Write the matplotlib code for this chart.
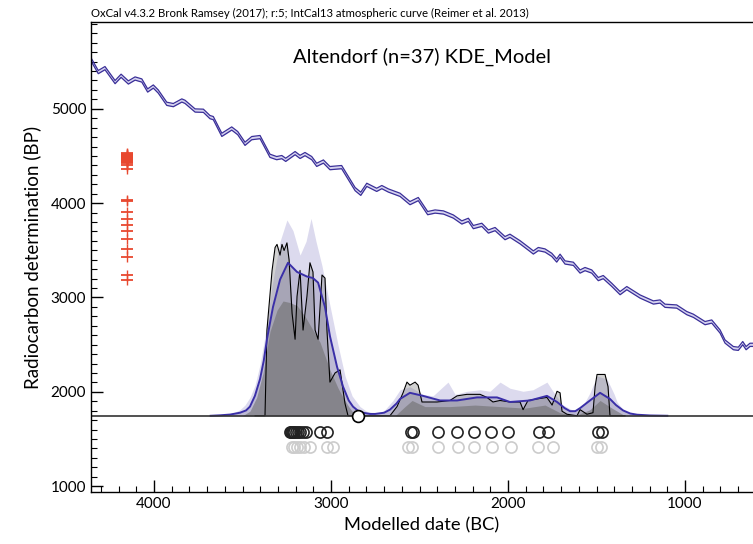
import matplotlib
matplotlib.use("Agg")
import matplotlib.pyplot as plt
import numpy as np
from matplotlib.ticker import MultipleLocator

plt.rcParams["font.family"] = ["Lato", "DejaVu Sans"]

# IntCal13 calibration curve (year BC, radiocarbon BP)
curve_bc = [4360, 4315, 4277, 4220, 4186, 4145, 4107, 4069, 4036, 4004, 3976, 3928,
            3891, 3843, 3825, 3768, 3721, 3684, 3665, 3617, 3561, 3527, 3486, 3448,
            3401, 3345, 3307, 3278, 3256, 3203, 3175, 3147, 3109, 3081, 3043, 3006,
            2940, 2864, 2832, 2798, 2742, 2713, 2676, 2610, 2554, 2507, 2454, 2412,
            2365, 2309, 2261, 2224, 2196, 2148, 2111, 2073, 2017, 1989, 1932, 1876,
            1857, 1829, 1791, 1753, 1725, 1706, 1678, 1631, 1593, 1565, 1527, 1490,
            1462, 1414, 1367, 1329, 1254, 1179, 1141, 1113, 1047, 990, 953, 887,
            849, 802, 774, 727, 699, 674, 655, 633, 610]
curve_bp = [5537, 5389, 5431, 5283, 5350, 5279, 5321, 5300, 5194, 5236, 5183, 5053,
            5039, 5088, 5074, 4982, 4979, 4912, 4901, 4724, 4791, 4742, 4629, 4689,
            4700, 4502, 4477, 4488, 4459, 4530, 4490, 4520, 4477, 4406, 4441, 4371,
            4382, 4149, 4099, 4194, 4141, 4170, 4134, 4088, 4000, 4043, 3894, 3911,
            3901, 3858, 3795, 3823, 3746, 3770, 3699, 3725, 3629, 3654, 3585, 3505,
            3477, 3513, 3498, 3452, 3392, 3442, 3371, 3357, 3275, 3301, 3275, 3195,
            3216, 3134, 3046, 3099, 3010, 2947, 2957, 2912, 2904, 2834, 2806, 2728,
            2745, 2639, 2533, 2463, 2456, 2516, 2463, 2498, 2498]
curve_err = 17

# 14C measurements (BP)
dates_bp = [4530, 4522, 4515, 4508, 4500, 4495, 4490, 4485, 4480, 4475, 4470, 4462,
            4455, 4448, 4440, 4432, 4425, 4399, 4364, 4035, 4024, 3905, 3830, 3770,
            3706, 3621, 3512, 3434, 3233, 3187]
dates_err = 55
dates_x = 4153

# KDE plot (relative heights above baseline)
kde_base = 1746
kde_scale = 1622

upper_bc = [3650, 3600, 3550, 3514, 3486, 3458, 3429, 3400, 3373, 3333, 3288, 3249,
            3215, 3175, 3141, 3113, 3085, 3051, 3006, 2960, 2921, 2881, 2836, 2800,
            2768, 2720, 2695, 2650, 2610, 2554, 2480, 2424, 2339, 2299, 2232, 2158,
            2102, 2045, 1989, 1915, 1859, 1780, 1746, 1689, 1640, 1610, 1570, 1537,
            1497, 1441, 1400, 1384, 1350, 1311, 1260, 1200]
upper_h = [0, 0.005, 0.02, 0.04, 0.07, 0.12, 0.20, 0.34, 0.52, 0.85, 1.14, 1.28,
           1.21, 1.05, 1.14, 1.29, 1.14, 0.98, 0.72, 0.46, 0.26, 0.13, 0.06, 0.03,
           0.02, 0.02, 0.04, 0.10, 0.17, 0.19, 0.14, 0.13, 0.22, 0.14, 0.16, 0.17,
           0.16, 0.22, 0.18, 0.16, 0.17, 0.22, 0.16, 0.07, 0.04, 0.04, 0.08, 0.15,
           0.26, 0.24, 0.14, 0.09, 0.04, 0.015, 0.005, 0]

mean_bc = [3680, 3627, 3570, 3514, 3480, 3458, 3430, 3401, 3380, 3362, 3328, 3288,
           3243, 3192, 3136, 3102, 3073, 3034, 3006, 2966, 2932, 2900, 2876, 2850,
           2819, 2780, 2751, 2700, 2667, 2630, 2610, 2554, 2480, 2384, 2288, 2175,
           2062, 1989, 1876, 1780, 1723, 1680, 1650, 1620, 1593, 1537, 1480, 1424,
           1390, 1350, 1310, 1271, 1198, 1100]
mean_h = [0, 0.003, 0.008, 0.02, 0.035, 0.06, 0.13, 0.24, 0.36, 0.50, 0.71, 0.89,
          1.00, 0.94, 0.91, 0.90, 0.87, 0.71, 0.52, 0.32, 0.19, 0.10, 0.06, 0.035,
          0.02, 0.012, 0.012, 0.02, 0.04, 0.08, 0.11, 0.15, 0.13, 0.10, 0.10, 0.12,
          0.12, 0.09, 0.10, 0.13, 0.09, 0.05, 0.03, 0.03, 0.05, 0.10, 0.15, 0.11,
          0.07, 0.035, 0.015, 0.007, 0.002, 0]

lower_bc = [3500, 3458, 3420, 3384, 3345, 3305, 3271, 3232, 3192, 3147, 3102, 3062,
            3006, 2960, 2932, 2900, 2881, 2836, 2638, 2582, 2542, 2469, 2328, 2186,
            2045, 1904, 1791, 1706, 1621, 1537, 1480, 1413, 1339]
lower_h = [0, 0.03, 0.12, 0.28, 0.55, 0.69, 0.75, 0.74, 0.72, 0.65, 0.56, 0.48,
           0.30, 0.18, 0.12, 0.06, 0.03, 0, 0, 0.06, 0.10, 0.06, 0.06, 0.07,
           0.06, 0.05, 0.07, 0.02, 0, 0.04, 0.10, 0.05, 0]

sum_bc = [3429, 3373, 3362, 3333, 3316, 3305, 3288, 3277, 3265, 3249, 3237, 3220,
          3203, 3192, 3175, 3158, 3136, 3119, 3102, 3090, 3073, 3051, 3034, 3023,
          3006, 2977, 2949, 2921, 2904, 2667, 2627, 2593, 2571, 2554, 2525, 2508,
          2486, 2401, 2328, 2288, 2232, 2158, 2119, 2085, 2045, 1989, 1932, 1915,
          1887, 1836, 1780, 1751, 1723, 1706, 1695, 1667, 1610, 1593, 1554, 1520,
          1508, 1497, 1452, 1435, 1424, 1339]
sum_h = [0, 0, 0.56, 0.95, 1.10, 1.12, 1.05, 1.12, 1.08, 1.13, 1.02, 0.67,
         0.50, 0.78, 0.95, 0.56, 0.78, 1.00, 0.94, 0.56, 0.50, 0.92, 0.90, 0.56,
         0.22, 0.28, 0.30, 0.08, 0, 0, 0.06, 0.15, 0.22, 0.20, 0.22, 0.20,
         0.09, 0.09, 0.10, 0.13, 0.14, 0.14, 0.12, 0.09, 0.10, 0.09, 0.09, 0.04,
         0.10, 0.11, 0.12, 0.07, 0.16, 0.15, 0.03, 0.01, 0, 0.04, 0.01, 0.02,
         0.19, 0.27, 0.27, 0.19, 0, 0]

boundary_bc = 2847

# modelled (black) and unmodelled (grey) date markers
modelled_bc = [3232, 3226, 3220, 3215, 3209, 3198, 3186, 3175, 3158, 3141, 3062, 3023,
               2548, 2537, 2395, 2288, 2192, 2096, 2000, 1825, 1774, 1491, 1469]
unmodelled_bc = [3220, 3209, 3192, 3175, 3153, 3119, 3023, 2989, 2565, 2542, 2395,
                 2282, 2192, 2090, 1983, 1830, 1746, 1497, 1474]
modelled_y = 1576
unmodelled_y = 1417

fig = plt.figure(figsize=(7.53, 5.44), dpi=100)
ax = fig.add_axes([91 / 753, 1 - 492 / 544, 1 - 91 / 753, 470 / 544])

# calibration curve band
cbp = np.array(curve_bp)
ax.fill_between(curve_bc, cbp - curve_err, cbp + curve_err, color="#d6d3f0", lw=0)
ax.plot(curve_bc, cbp - curve_err, color="#3a2f98", lw=0.9)
ax.plot(curve_bc, cbp + curve_err, color="#3a2f98", lw=0.9)

# KDE
ub = kde_base + np.array(upper_h) * kde_scale
mb = kde_base + np.array(mean_h) * kde_scale
lb = kde_base + np.array(lower_h) * kde_scale
sb = kde_base + np.array(sum_h) * kde_scale
ax.fill_between(upper_bc, kde_base, ub, color="#dcdaee", lw=0)
ax.fill_between(mean_bc, kde_base, mb, color="#a9a6c4", alpha=0.6, lw=0)
ax.fill_between(sum_bc, kde_base, sb, color="#808080", alpha=0.35, lw=0)
ax.fill_between(lower_bc, kde_base, lb, color="#6f6f6f", alpha=0.6, lw=0)
ax.plot(sum_bc, sb, color="black", lw=0.8)
ax.plot(mean_bc, mb, color="#3a2fa8", lw=1.4)
ax.axhline(kde_base, color="#333333", lw=1.2)
ax.plot([boundary_bc], [kde_base], "o", ms=8.5, mfc="white", mec="black", mew=1.2)

ax.plot(modelled_bc, [modelled_y] * len(modelled_bc), "o", ms=8, mfc="none",
        mec="#222222", mew=1.2)
ax.plot(unmodelled_bc, [unmodelled_y] * len(unmodelled_bc), "o", ms=8, mfc="none",
        mec="#cccccc", mew=1.2)

# 14C measurements
ax.errorbar([dates_x] * len(dates_bp), dates_bp, yerr=dates_err, fmt="_", ms=8,
            mew=1.3, color="#e8482f", elinewidth=1.0, capsize=0)

ax.set_xlim(4356, 616)
ax.set_ylim(938, 5920)
ax.xaxis.set_major_locator(MultipleLocator(1000))
ax.xaxis.set_minor_locator(MultipleLocator(100))
ax.yaxis.set_major_locator(MultipleLocator(1000))
ax.yaxis.set_minor_locator(MultipleLocator(100))
ax.tick_params(which="major", direction="in", length=8.5, width=1.0, labelsize=11)
ax.tick_params(which="minor", direction="in", length=4.3, width=0.8)
ax.spines["right"].set_visible(False)
for s in ["left", "bottom", "top"]:
    ax.spines[s].set_linewidth(1.0)
ax.set_xlabel("Modelled date (BC)", fontsize=13.2, labelpad=5)
ax.set_ylabel("Radiocarbon determination (BP)", fontsize=13.5, labelpad=7)

fig.text(91 / 753, 1 - 13 / 544,
         "OxCal v4.3.2 Bronk Ramsey (2017); r:5; IntCal13 atmospheric curve (Reimer et al. 2013)",
         fontsize=8.2, va="center", ha="left")
ax.text(0.5, 1 - (57 - 22) / 470, "Altendorf (n=37) KDE_Model", transform=ax.transAxes,
        ha="center", va="center", fontsize=14.5)

fig.savefig("out.png", dpi=100)
